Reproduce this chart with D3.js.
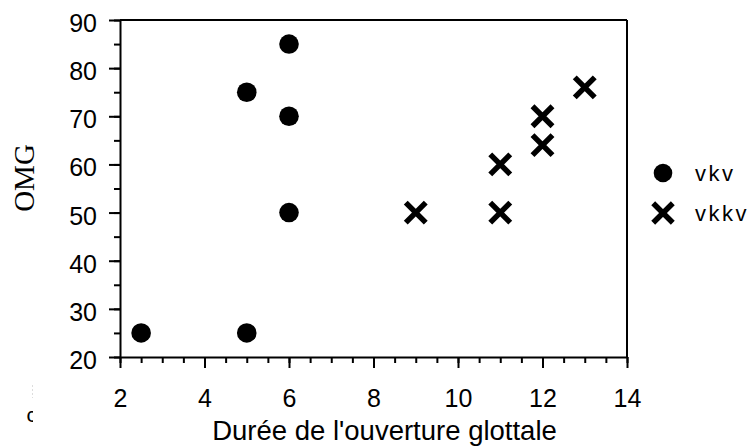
<!DOCTYPE html>
<html><head><meta charset="utf-8">
<script src="https://cdn.jsdelivr.net/npm/d3@7"></script>
<style>
html,body{margin:0;padding:0;background:#fff;}
svg{display:block;}
text{fill:#000;}
</style></head>
<body>
<svg id="chart" width="753" height="446"></svg>
<script>
// Data
const vkvX = [2.5, 5, 5, 6, 6, 6];
const vkvY = [25, 25, 75, 85, 70, 50];
const vkkvX = [9, 11, 11, 12, 12, 13];
const vkkvY = [50, 50, 60, 64, 70, 76];
const xTicks = [2, 4, 6, 8, 10, 12, 14];
const yTicks = [20, 30, 40, 50, 60, 70, 80, 90];
const seriesNames = ["vkv", "vkkv"];
const xTitle = "Durée de l'ouverture glottale";
const yTitle = "OMG";

const svg = d3.select("#chart");
const L = 120, R = 627, T = 20, B = 357;
const x = d3.scaleLinear().domain([2, 14]).range([L, R]);
const y = d3.scaleLinear().domain([20, 90]).range([B, T]);

const font = "'Liberation Sans', Arial, sans-serif";

// minor ticks
const xMinor = d3.range(2, 14.01, 0.5);
const yMinor = d3.range(20, 90.01, 5);
svg.append("g").attr("transform", `translate(0,${B})`)
  .call(d3.axisBottom(x).tickValues(xMinor).tickSize(6).tickFormat(""))
  .call(g => g.select(".domain").remove())
  .call(g => g.selectAll("line").attr("stroke", "#000").attr("stroke-width", 2));
svg.append("g").attr("transform", `translate(${L},0)`)
  .call(d3.axisLeft(y).tickValues(yMinor).tickSize(6).tickFormat(""))
  .call(g => g.select(".domain").remove())
  .call(g => g.selectAll("line").attr("stroke", "#000").attr("stroke-width", 2));

// major axes
const xAxis = svg.append("g").attr("transform", `translate(0,${B})`)
  .call(d3.axisBottom(x).tickValues(xTicks).tickSize(11).tickSizeOuter(0).tickFormat(d3.format("d")));
const yAxis = svg.append("g").attr("transform", `translate(${L},0)`)
  .call(d3.axisLeft(y).tickValues(yTicks).tickSize(11).tickSizeOuter(0).tickPadding(12).tickFormat(d3.format("d")));
[xAxis, yAxis].forEach(a => {
  a.select(".domain").attr("stroke", "#000").attr("stroke-width", 2);
  a.selectAll(".tick line").attr("stroke", "#000").attr("stroke-width", 2);
  a.selectAll(".tick text").attr("font-family", font).attr("font-size", 25).attr("fill", "#000");
});
xAxis.selectAll(".tick text").attr("y", 49.5).attr("dy", 0);
yAxis.selectAll(".tick text").attr("dy", 11.5);

// frame top and right
svg.append("line").attr("x1", L).attr("x2", R).attr("y1", T).attr("y2", T)
  .attr("stroke", "#000").attr("stroke-width", 2);
svg.append("line").attr("x1", R).attr("x2", R).attr("y1", T).attr("y2", B)
  .attr("stroke", "#000").attr("stroke-width", 2);

// points
const crossPath = (cx, cy, a) => `M${cx-a},${cy-a}L${cx+a},${cy+a}M${cx-a},${cy+a}L${cx+a},${cy-a}`;
svg.append("g").selectAll("circle").data(d3.range(vkvX.length)).join("circle")
  .attr("cx", i => x(vkvX[i])).attr("cy", i => y(vkvY[i])).attr("r", 9.8).attr("fill", "#000");
svg.append("g").selectAll("path").data(d3.range(vkkvX.length)).join("path")
  .attr("d", i => crossPath(x(vkkvX[i]), y(vkkvY[i]), 10))
  .attr("stroke", "#000").attr("stroke-width", 5.5).attr("fill", "none");

// legend
const lg = svg.append("g");
lg.append("circle").attr("cx", 663).attr("cy", 173).attr("r", 9.3).attr("fill", "#000");
lg.append("path").attr("d", crossPath(663, 213, 9.8)).attr("stroke", "#000").attr("stroke-width", 5.5).attr("fill", "none");
lg.selectAll("text").data(seriesNames).join("text")
  .attr("x", 695).attr("y", (d, i) => 173 + i * 40).attr("dy", 8)
  .attr("font-family", font).attr("font-size", 22).attr("letter-spacing", 2.5)
  .text(d => d);

// axis titles
svg.append("text").attr("x", 384.5).attr("y", 440).attr("text-anchor", "middle")
  .attr("font-family", font).attr("font-size", 27.5).text(xTitle);
svg.append("text").attr("transform", "translate(33.5,178) rotate(-90)").attr("text-anchor", "middle")
  .attr("font-family", "'Liberation Serif', 'Times New Roman', serif").attr("font-size", 29).text(yTitle);

// clipped stray glyph at bottom-left
svg.append("clipPath").attr("id", "clipStray").append("rect").attr("x", 0).attr("y", 380).attr("width", 33).attr("height", 60);
svg.append("text").attr("x", 26.5).attr("y", 422).attr("clip-path", "url(#clipStray)")
  .attr("font-family", font).attr("font-size", 21).text("c");
svg.append("line").attr("x1", 32.5).attr("x2", 32.5).attr("y1", 385).attr("y2", 398)
  .attr("stroke", "#ddd").attr("stroke-width", 1).attr("stroke-dasharray", "2,2");
</script>
</body></html>
